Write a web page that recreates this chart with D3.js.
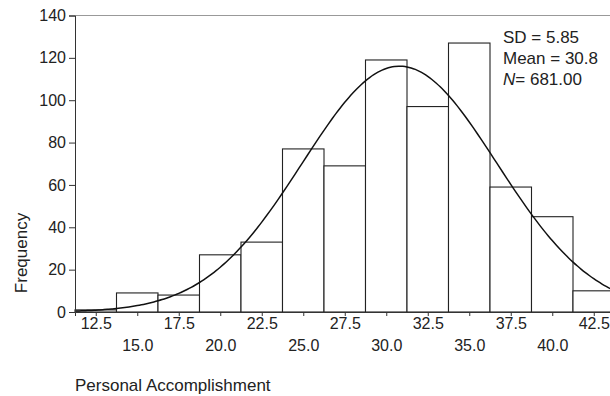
<!DOCTYPE html>
<html>
<head>
<meta charset="utf-8">
<script src="https://cdn.jsdelivr.net/npm/d3@7"></script>
<style>
  body { margin: 0; background: #fff; }
  svg text { font-family: "Liberation Sans", Arial, sans-serif; fill: #222; }
</style>
</head>
<body>
<div id="chart"></div>
<script>
// bin centres (width 2.5) and counts
var binCenters = [12.5, 15.0, 17.5, 20.0, 22.5, 25.0, 27.5, 30.0, 32.5, 35.0, 37.5, 40.0, 42.5];
var counts     = [1, 9, 8, 27, 33, 77, 69, 119, 97, 127, 59, 45, 10];
var yTicks     = [0, 20, 40, 60, 80, 100, 120, 140];
var statLabels = ["SD = 5.85", "Mean = 30.8", "N= 681.00"];
var stats      = [5.85, 30.8, 681]; // sd, mean, n

var width = 610, height = 396;
var binW = 2.5;

var svg = d3.select("#chart").append("svg")
  .attr("width", width)
  .attr("height", height);

var x = d3.scaleLinear().domain([11.25, 43.75]).range([75, 614.5]);
var y = d3.scaleLinear().domain([0, 140]).range([312, 15.5]);

// top frame line
svg.append("line")
  .attr("x1", x(11.25)).attr("x2", width)
  .attr("y1", y(140)).attr("y2", y(140))
  .attr("stroke", "#999").attr("stroke-width", 1);

// bars
svg.append("g")
  .selectAll("rect")
  .data(binCenters)
  .enter().append("rect")
  .attr("x", function(d) { return x(d - binW / 2); })
  .attr("y", function(d, i) { return y(counts[i]); })
  .attr("width", function(d) { return x(d + binW / 2) - x(d - binW / 2); })
  .attr("height", function(d, i) { return y(0) - y(counts[i]); })
  .attr("fill", "#fff")
  .attr("stroke", "#222")
  .attr("stroke-width", 1.1);

// fitted normal curve from the stats shown in the legend
var sd = stats[0], mean = stats[1], n = stats[2];
var curveX = d3.range(11.25, 43.76, 0.25);
var line = d3.line()
  .x(function(d) { return x(d); })
  .y(function(d) {
    var z = (d - mean) / sd;
    return y(n * binW / (sd * Math.sqrt(2 * Math.PI)) * Math.exp(-0.5 * z * z));
  })
  .curve(d3.curveBasis);

svg.append("path")
  .datum(curveX)
  .attr("d", line)
  .attr("fill", "none")
  .attr("stroke", "#111")
  .attr("stroke-width", 1.5);

// y axis
var yAxis = svg.append("g")
  .attr("transform", "translate(" + x(11.25) + ",0)")
  .call(d3.axisLeft(y).tickValues(yTicks).tickSize(6).tickPadding(3));
yAxis.select(".domain").attr("stroke", "#333");
yAxis.selectAll(".tick line").attr("stroke", "#333");
yAxis.selectAll("text").style("font-size", "16px").attr("fill", "#222");

// x axis
var xAxis = svg.append("g")
  .attr("transform", "translate(0," + y(0) + ")")
  .call(d3.axisBottom(x).tickValues(binCenters).tickSize(4).tickFormat(d3.format(".1f")));
xAxis.select(".domain").attr("stroke", "#333");
xAxis.selectAll(".tick line").attr("stroke", "#333");
xAxis.selectAll("text")
  .style("font-size", "16px")
  .attr("fill", "#222")
  .attr("dy", null)
  .attr("y", function(d, i) { return i % 2 === 0 ? 17 : 39; });

// axis titles
svg.append("text")
  .attr("transform", "translate(27,253) rotate(-90)")
  .attr("text-anchor", "middle")
  .style("font-size", "17px")
  .text("Frequency");

svg.append("text")
  .attr("x", 75)
  .attr("y", 391)
  .style("font-size", "17px")
  .text("Personal Accomplishment");

// stats box text
var st = svg.append("g").selectAll("text")
  .data(statLabels)
  .enter().append("text")
  .attr("x", 503)
  .attr("y", function(d, i) { return 43 + i * 21; })
  .style("font-size", "17px");

st.each(function(d) {
  var t = d3.select(this);
  if (d.charAt(0) === "N") {
    t.append("tspan").style("font-style", "italic").text("N");
    t.append("tspan").text(d.slice(1));
  } else {
    t.text(d);
  }
});
</script>
</body>
</html>
